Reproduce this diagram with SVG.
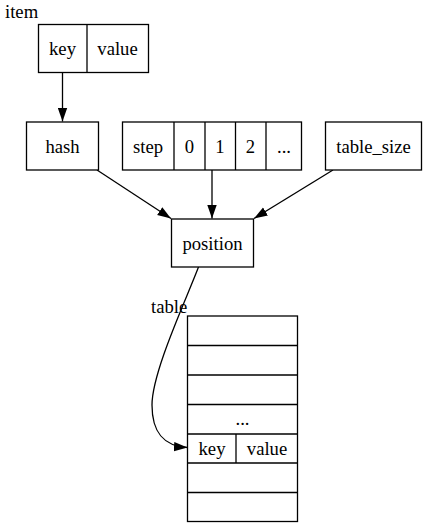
<svg xmlns="http://www.w3.org/2000/svg" width="427" height="528" viewBox="0 0 427 528">
<style>
.b{fill:#fff;stroke:#000;stroke-width:1.3}
.l{fill:none;stroke:#000;stroke-width:1.3}
.c{text-anchor:middle}
</style>
<defs>
<marker id="ah" viewBox="0 0 13.5 10" refX="13.5" refY="5" markerWidth="13.5" markerHeight="10" markerUnits="userSpaceOnUse" orient="auto">
<path d="M0,0.3 L13.5,5 L0,9.7 Z" fill="#000"/>
</marker>
</defs>
<rect width="427" height="528" fill="#fff"/>
<g id="connectors">
<path class="l" d="M62.5,72.5 L62.5,121.5" marker-end="url(#ah)"/>
<path class="l" d="M97,170 L171,218.5" marker-end="url(#ah)"/>
<path class="l" d="M212,170 L212,218.5" marker-end="url(#ah)"/>
<path class="l" d="M333,170 L254,218.5" marker-end="url(#ah)"/>
<path class="l" d="M198.5,267 C186,300 152,372 152,405 C152,432 163,446 187.5,447.5" marker-end="url(#ah)"/>
</g>
<g font-family="'Liberation Serif','DejaVu Serif','Times New Roman',Times,serif" font-size="18.67" fill="#000">
<g id="item">
<text x="5" y="18">item</text>
<rect class="b" x="38.5" y="24.5" width="110" height="48"/>
<line class="l" x1="87" y1="24.5" x2="87" y2="72.5"/>
<text class="c" x="62.5" y="55">key</text>
<text class="c" x="117.5" y="55">value</text>
</g>
<g id="hash">
<rect class="b" x="26.5" y="122" width="72" height="48"/>
<text class="c" x="62.5" y="152.5">hash</text>
</g>
<g id="step">
<rect class="b" x="122.5" y="122" width="179" height="48"/>
<line class="l" x1="174" y1="122" x2="174" y2="170"/>
<line class="l" x1="205" y1="122" x2="205" y2="170"/>
<line class="l" x1="235.5" y1="122" x2="235.5" y2="170"/>
<line class="l" x1="266" y1="122" x2="266" y2="170"/>
<text class="c" x="148" y="152.5">step</text>
<text class="c" x="189.5" y="152.5">0</text>
<text class="c" x="220" y="152.5">1</text>
<text class="c" x="250.5" y="152.5">2</text>
<text class="c" x="284" y="152.5">...</text>
</g>
<g id="table_size">
<rect class="b" x="325.5" y="122" width="96" height="48"/>
<text class="c" x="373.5" y="152.5">table_size</text>
</g>
<g id="position">
<rect class="b" x="171.5" y="219" width="82" height="48"/>
<text class="c" x="212.5" y="249.5">position</text>
</g>
<g id="table">
<text x="151" y="313">table</text>
<rect class="b" x="187.5" y="316" width="110" height="205.5"/>
<line class="l" x1="187.5" y1="345.5" x2="297.5" y2="345.5"/>
<line class="l" x1="187.5" y1="375" x2="297.5" y2="375"/>
<line class="l" x1="187.5" y1="404.5" x2="297.5" y2="404.5"/>
<line class="l" x1="187.5" y1="434" x2="297.5" y2="434"/>
<line class="l" x1="187.5" y1="463" x2="297.5" y2="463"/>
<line class="l" x1="187.5" y1="492.5" x2="297.5" y2="492.5"/>
<line class="l" x1="236" y1="434" x2="236" y2="463"/>
<text class="c" x="242.5" y="425">...</text>
<text class="c" x="212" y="454.5">key</text>
<text class="c" x="267" y="454.5">value</text>
</g>
</g>
</svg>
